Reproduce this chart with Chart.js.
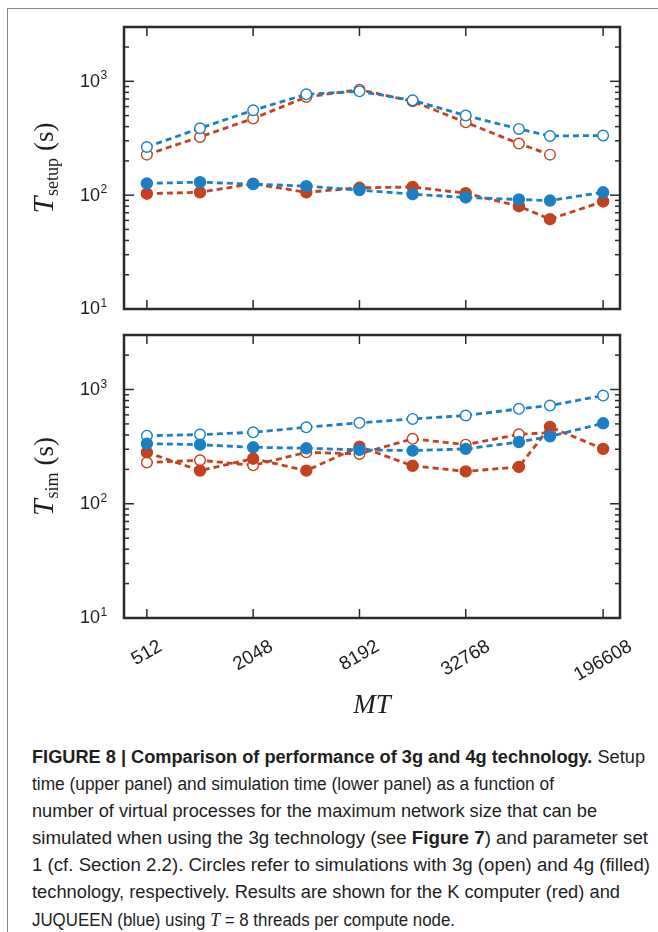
<!DOCTYPE html>
<html>
<head>
<meta charset="utf-8">
<script src="https://cdn.jsdelivr.net/npm/chart.js@4.4.1/dist/chart.umd.min.js"></script>
<style>
  html, body { margin: 0; padding: 0; background: #fff; }
  body { width: 658px; height: 932px; position: relative; overflow: hidden; }
  #frame {
    position: absolute; left: 7px; top: 8px; width: 660px; height: 930px;
    border-left: 1.5px solid #8a8a8a; border-top: 1.5px solid #8a8a8a;
  }
  canvas { position: absolute; left: 0; }
  #setupChart { top: 0; }
  #simChart { top: 320px; }
  .caption {
    position: absolute; left: 32px; top: 744px;
    font-family: "Liberation Sans", Arial, sans-serif;
    font-size: 18px; line-height: 27px; color: #1e1e1e;
  }
  .caption span.line { display: block; width: max-content; white-space: nowrap; transform-origin: 0 0; }
  .caption i { font-family: "Liberation Serif", serif; font-size: 19px; }
</style>
</head>
<body>
<div id="frame"></div>
<canvas id="setupChart" width="658" height="320"></canvas>
<canvas id="simChart" width="658" height="410"></canvas>
<div class="caption">
  <span class="line" data-w="613"><b>FIGURE 8 | Comparison of performance of 3g and 4g technology.</b> Setup</span>
  <span class="line" data-w="522">time (upper panel) and simulation time (lower panel) as a function of</span>
  <span class="line" data-w="565">number of virtual processes for the maximum network size that can be</span>
  <span class="line" data-w="616">simulated when using the 3g technology (see <b>Figure 7</b>) and parameter set</span>
  <span class="line" data-w="618">1 (cf. Section 2.2). Circles refer to simulations with 3g (open) and 4g (filled)</span>
  <span class="line" data-w="588">technology, respectively. Results are shown for the K computer (red) and</span>
  <span class="line" data-w="423">JUQUEEN (blue) using <i>T</i> = 8 threads per compute node.</span>
</div>
<script>
// number of virtual processes MT
const mtValues = [512, 1024, 2048, 4096, 8192, 16384, 32768, 65536, 98304, 196608];
const xTickValues = [512, 2048, 8192, 32768, 196608];
const yDecades = [1, 2, 3];

// setup time (s)
const setupK3g = [227, 325, 471, 728, 845, 668, 436, 284, 227];
const setupK4g = [103, 106, 126, 106, 116, 118, 104, 80, 61.5, 88];
const setupJ3g = [265, 387, 557, 769, 817, 681, 500, 382, 331, 334];
const setupJ4g = [127, 130, 125, 120, 111, 102, 95.5, 91.6, 89.7, 106];

// simulation time (s)
const simK3g = [230, 240, 217, 282, 273, 370, 329, 405, 420];
const simK4g = [282, 195, 248, 195, 316, 215, 192, 210, 471, 302];
const simJ3g = [394, 403, 422, 467, 511, 553, 592, 677, 724, 885];
const simJ4g = [336, 329, 312, 306, 296, 292, 302, 347, 389, 506];

const RED = '#c4421f';
const BLUE = '#1b80c3';
const AXIS = '#2b2b2b';

// squeeze each caption line to its set width
document.querySelectorAll('.caption .line').forEach(el => {
    const target = parseFloat(el.dataset.w);
    const natural = el.getBoundingClientRect().width;
    el.style.transform = 'scaleX(' + (target / natural) + ')';
});

const toPoints = arr => arr.map((v, i) => ({ x: mtValues[i], y: v }));

function series(arr, color, filled, order) {
    return {
        data: toPoints(arr),
        borderColor: color,
        borderWidth: 2.8,
        borderDash: [6, 4],
        pointRadius: filled ? 5.5 : 5.3,
        pointBorderWidth: 1.4,
        pointBorderColor: color,
        pointBackgroundColor: filled ? color : '#fff',
        tension: 0,
        order: order
    };
}

// draws the box, inward ticks, tick labels and axis titles
const panelAxes = {
    id: 'panelAxes',
    afterDatasetsDraw(chart, args, opts) {
        const ctx = chart.ctx;
        const { left, right, top, bottom } = chart.chartArea;
        const xs = chart.scales.x, ys = chart.scales.y;
        const seg = (x1, y1, x2, y2) => { ctx.beginPath(); ctx.moveTo(x1, y1); ctx.lineTo(x2, y2); ctx.stroke(); };
        ctx.save();
        ctx.strokeStyle = AXIS;
        ctx.fillStyle = '#1e1e1e';
        ctx.lineWidth = 1.5;

        xTickValues.forEach(v => {
            const px = xs.getPixelForValue(v);
            seg(px, bottom, px, bottom - 9);
            seg(px, top, px, top + 9);
        });
        for (const d of yDecades) {
            for (let m = 1; m <= 9; m++) {
                const v = m * Math.pow(10, d);
                if (v > ys.max) break;
                const py = ys.getPixelForValue(v);
                const len = m === 1 ? 10 : 5;
                seg(left, py, left + len, py);
                seg(right, py, right - len, py);
            }
        }
        ctx.lineWidth = 2.5;
        ctx.strokeRect(left, top, right - left, bottom - top);

        // y tick labels 10^n
        yDecades.forEach(d => {
            const py = ys.getPixelForValue(Math.pow(10, d));
            ctx.font = '18px "Liberation Sans", Arial, sans-serif';
            ctx.textAlign = 'right';
            ctx.textBaseline = 'middle';
            ctx.fillText('10', left - 24, py + 0.5);
            ctx.font = '12px "Liberation Sans", Arial, sans-serif';
            ctx.textAlign = 'left';
            ctx.textBaseline = 'alphabetic';
            ctx.fillText(String(d), left - 23.5, py - 2);
        });

        // y title: T with subscript, then (s)
        const mid = (top + bottom) / 2;
        const parts = [
            { t: 'T', font: 'italic 30px "Liberation Serif", serif', dy: 0, gap: 1 },
            { t: opts.sub, font: '18px "Liberation Serif", serif', dy: 5, gap: 7 },
            { t: '(s)', font: '27px "Liberation Serif", serif', dy: 0, gap: 0 }
        ];
        let total = 0;
        parts.forEach(p => { ctx.font = p.font; p.w = ctx.measureText(p.t).width; total += p.w + p.gap; });
        ctx.translate(53, mid);
        ctx.rotate(-Math.PI / 2);
        ctx.textAlign = 'left';
        ctx.textBaseline = 'alphabetic';
        let cx = -total / 2;
        parts.forEach(p => {
            ctx.font = p.font;
            ctx.fillText(p.t, cx, p.dy);
            cx += p.w + p.gap;
        });
        ctx.setTransform(1, 0, 0, 1, 0, 0);

        if (opts.xLabels) {
            const ang = Math.PI / 6;
            ctx.font = '19px "Liberation Sans", Arial, sans-serif';
            ctx.textAlign = 'center';
            ctx.textBaseline = 'middle';
            xTickValues.forEach(v => {
                const px = xs.getPixelForValue(v);
                const w = ctx.measureText(String(v)).width;
                const boxH = w * Math.sin(ang) + 14 * Math.cos(ang);
                ctx.save();
                ctx.translate(px, bottom + 21 + boxH / 2);
                ctx.rotate(-ang);
                ctx.fillText(String(v), 0, 0);
                ctx.restore();
            });
            ctx.font = 'italic 27px "Liberation Serif", serif';
            ctx.textAlign = 'center';
            ctx.textBaseline = 'alphabetic';
            ctx.fillText('MT', (left + right) / 2, 393);
        }
        ctx.restore();
    }
};

function makePanel(id, k3g, k4g, j3g, j4g, sub, padBottom, padTop, xLabels) {
    return new Chart(document.getElementById(id), {
        type: 'line',
        data: {
            datasets: [
                series(j4g, BLUE, true, 0),
                series(j3g, BLUE, false, 1),
                series(k4g, RED, true, 2),
                series(k3g, RED, false, 3)
            ]
        },
        options: {
            responsive: false,
            devicePixelRatio: 1,
            animation: false,
            events: [],
            layout: { padding: { left: 124, right: 38, top: padTop, bottom: padBottom } },
            plugins: {
                legend: { display: false },
                tooltip: { enabled: false },
                panelAxes: { sub: sub, xLabels: xLabels }
            },
            scales: {
                x: { type: 'logarithmic', min: 380, max: 245000, display: false },
                y: { type: 'logarithmic', min: 10, max: 3000, display: false }
            }
        },
        plugins: [panelAxes]
    });
}

makePanel('setupChart', setupK3g, setupK4g, setupJ3g, setupJ4g, 'setup', 11, 27, false);
makePanel('simChart', simK3g, simK4g, simJ3g, simJ4g, 'sim', 112, 15, true);
</script>
</body>
</html>
